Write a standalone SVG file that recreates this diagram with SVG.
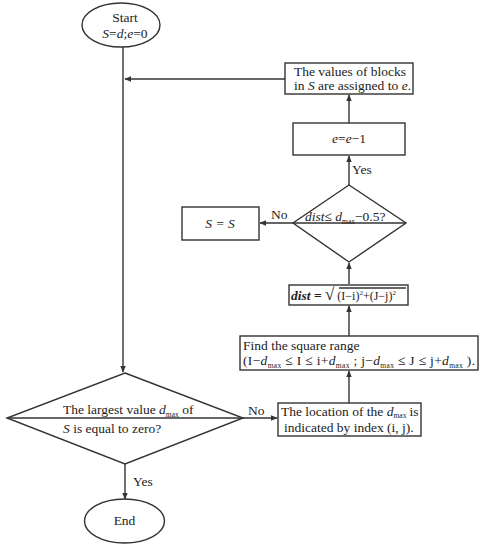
<svg xmlns="http://www.w3.org/2000/svg" width="481" height="550" viewBox="0 0 481 550">
<style>
.s{fill:none;stroke:#333;stroke-width:1.4}
.b{fill:#fff;stroke:#333;stroke-width:1.4}
text{font-family:"Liberation Serif","Times New Roman",serif;font-size:13.5px;fill:#222}
.c{text-anchor:middle}
.i{font-style:italic}
.sub{font-size:7.5px}
</style>
<defs>
<marker id="a" viewBox="0 0 10 10" refX="9" refY="5" markerWidth="7" markerHeight="7" orient="auto" markerUnits="userSpaceOnUse">
<path d="M0,1 L10,5 L0,9 z" fill="#333"/>
</marker>
</defs>
<g id="connectors">
<path class="s" d="M123,47 V372" marker-end="url(#a)"/>
<path class="s" d="M125,464 V499" marker-end="url(#a)"/>
<path class="s" d="M242,418 H277" marker-end="url(#a)"/>
<path class="s" d="M349,403 V371" marker-end="url(#a)"/>
<path class="s" d="M349,336 V306" marker-end="url(#a)"/>
<path class="s" d="M349,284 V263" marker-end="url(#a)"/>
<path class="s" d="M293,223 H260" marker-end="url(#a)"/>
<path class="s" d="M349,185 V156" marker-end="url(#a)"/>
<path class="s" d="M349,123 V95" marker-end="url(#a)"/>
<path class="s" d="M285,79 H125" marker-end="url(#a)"/>
<text x="133" y="486">Yes</text>
<text x="248" y="415">No</text>
<text x="271" y="219">No</text>
<text x="352" y="174">Yes</text>
</g>
<g id="start">
<ellipse class="b" cx="121" cy="25" rx="39" ry="22"/>
<text class="c" x="125" y="22">Start</text>
<text class="c" x="125" y="38"><tspan class="i">S</tspan>=<tspan class="i">d</tspan>;<tspan class="i">e</tspan>=0</text>
</g>
<g id="decision-zero">
<path class="b" d="M125,373 L243,418 L125,464 L7,418 Z"/>
<path class="s" d="M7,418 H243"/>
<text x="63" y="414">The largest value <tspan class="i">d</tspan><tspan class="sub" dy="3">max</tspan><tspan dy="-3"> of</tspan></text>
<text x="63" y="433"><tspan class="i">S</tspan> is equal to zero?</text>
</g>
<g id="end">
<ellipse class="b" cx="124.5" cy="521" rx="40" ry="22"/>
<text class="c" x="124.5" y="525">End</text>
</g>
<g id="location">
<rect class="b" x="278" y="403" width="143" height="33"/>
<text x="281" y="416" font-size="13">The location  of the <tspan class="i">d</tspan><tspan class="sub" font-size="7" dy="2">max</tspan><tspan dy="-2" dx="3">is</tspan></text>
<text x="284" y="432">indicated by index (i, j).</text>
</g>
<g id="square-range">
<rect class="b" x="240" y="336" width="238" height="34"/>
<text x="243" y="350">Find the square range</text>
<text x="243" y="365" textLength="232" lengthAdjust="spacing">(I−<tspan class="i">d</tspan><tspan class="sub" dy="3">max</tspan><tspan dy="-3">  ≤ I ≤  i+</tspan><tspan class="i">d</tspan><tspan class="sub" dy="3">max</tspan><tspan dy="-3"> ; j−</tspan><tspan class="i">d</tspan><tspan class="sub" dy="3">max</tspan><tspan dy="-3">  ≤  J ≤  j+</tspan><tspan class="i">d</tspan><tspan class="sub" dy="3">max</tspan><tspan dy="-3"> ).</tspan></text>
</g>
<g id="distance">
<rect class="b" x="289" y="285" width="119" height="20"/>
<text x="291" y="300"><tspan class="i" font-weight="bold">dist</tspan><tspan font-weight="bold"> = </tspan><tspan font-size="17">√</tspan><tspan font-size="12"> (I−i)</tspan><tspan font-size="7" dy="-5">2</tspan><tspan font-size="12" dy="5">+(J−j)</tspan><tspan font-size="7" dy="-5">2</tspan></text>
<path class="s" stroke-width="0.9" d="M339,288 H406"/>
</g>
<g id="decision-dist">
<path class="b" d="M349,185 L406,223 L349,262 L293,223 Z"/>
<path class="s" d="M293,223 H406"/>
<text x="305" y="221"><tspan class="i">dist</tspan>≤ <tspan class="i">d</tspan><tspan class="sub" dy="3">max</tspan><tspan dy="-3">−0.5?</tspan></text>
</g>
<g id="s-equals-s">
<rect class="b" x="182" y="207" width="77" height="33"/>
<text class="c i" x="220" y="228">S = S</text>
</g>
<g id="decrement">
<rect class="b" x="293" y="123" width="112" height="32"/>
<text class="c" x="349" y="143"><tspan class="i">e</tspan>=<tspan class="i">e</tspan>−1</text>
</g>
<g id="assign">
<rect class="b" x="285" y="63" width="128" height="31"/>
<text x="294" y="76">The values of  blocks</text>
<text x="294" y="90">in <tspan class="i">S</tspan> are assigned to <tspan class="i">e</tspan>.</text>
</g>
</svg>
